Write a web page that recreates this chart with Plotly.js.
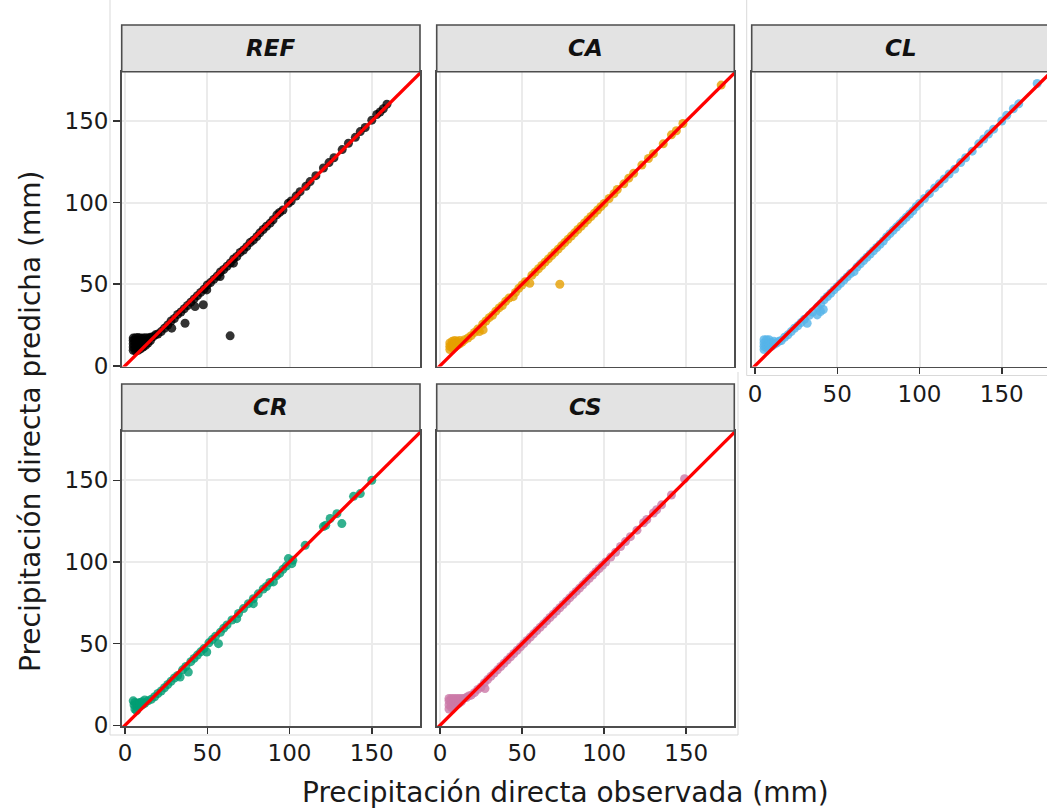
<!DOCTYPE html>
<html>
<head>
<meta charset="utf-8">
<script src="https://cdn.plot.ly/plotly-3.0.1.min.js"></script>
<style>
html,body{margin:0;padding:0;overflow:hidden;background:#ffffff;}
#chart{width:1052px;height:808px;}
</style>
</head>
<body>
<div id="chart"></div>
<script>
// ---------------- DATA ----------------
const panelNames = ["REF", "CA", "CL", "CR", "CS"];
const panelColors = ["#000000", "#E69F00", "#56B4E9", "#009E73", "#CC79A7"];
const tickValues = [0, 50, 100, 150];
const tickLabels = ["0", "50", "100", "150"];
const identityLine = [-5, 185];

const refObs = [5,5,5,5,5,6.5,6.5,6.5,6.5,6.5,8,8,8,8,8,9.5,9.5,9.5,9.5,11,11,11,12.5,12.5,12.5,14,14,15.5,15.5,17,18.5,
  20,22,24,26,28,28.4,30,32,34,36.5,36,38,40,42.6,42,44,46,47.6,48,49.7,50,52,54,56,57.8,58,60,62,63.9,64,65.9,66,68,70,72,74,76,78,80.1,82,84,86,88.2,90,92.3,94,96,99.3,101,104,106.4,110,112.5,116,120.6,124,127,132,135.8,140,143,146,150,153,155,157,159.2];
const refPred = [9.5,11.5,13.5,15.5,17,9,11,13,15,17.2,9.5,11.5,13.5,15.5,17.3,10.5,12.5,14.5,17,11.5,14,17,12.5,15,17.2,14,17,15.5,17.5,17.8,19,
  19.5,21,23,25,27.5,23.1,29,31.5,33,26.1,35,37,39,36.3,41,43,45,37.4,47,46.5,49.5,51,53,55,54.7,57.5,59,61,18.4,63,62.9,65.5,67,69.5,71,73,75.5,77,79.2,81.5,83.5,85.5,87.4,89.5,92.5,94,95.5,99.6,101,104,106.7,110,112.9,116.5,121.2,124.5,127.5,132.5,136.4,140,143.5,146,150.5,154,155.5,157.5,160.3];

const caObs = [6,6,6,7.5,7.5,7.5,9,9,9,10.5,10.5,12,12,13.5,15,
  17,19,21,23,24,26.3,26,28,30,32,34,36,38,40,42,44.6,46,48,50,52,54.7,56,58,60,62,64,66,68,70,72,73,74,76,78,80,82,84,86,88,90,92,94,96,98,100,103,106,108,112,115,118,123,127,130,136,141,144,148,171.3];
const caPred = [10,12,14,11,13,15,11.5,13.5,15.5,12.5,15,13.5,15.5,14.5,16,
  17,18.5,20.5,22.5,21,22,25.5,27.5,29.5,31,33.5,35.5,37,39.5,41.5,42.4,45,47.5,49.5,51.5,50.6,55.5,57.5,59.5,61.5,63.5,65.5,67.5,69.5,71.5,50,73.5,75.5,77.5,79.5,81.5,83.5,85.5,87.5,89.5,91.5,93.5,95.5,97.5,99.5,102.5,105.5,108,111.5,115,118,123,127,130,136,141.5,144,148.5,172];

const clObs = [5.5,5.5,5.5,5.5,7,7,7,8.5,8.5,8.5,10,10,11.5,11.5,13,14.5,
  16,18,20,22,24,26,28,30,31.7,33,35,37.8,39.8,41.5,38,40,42,44,46,48,50,52,54,56,58,60.2,62,64,66,68,70,72,74,76,78,80,82,84,86,88,90,92,94,96,98,100,103,106,109.2,112,115,118,121.4,125,128,132,136,139,141.9,145,150,153,157,160.3,171.5];
const clPred = [10,12,14,16,11,13,16,11.5,13.5,16,12,14.5,13,15,14,15,
  15.5,17.5,19,21,23,24.5,26.5,28.5,26.1,31,33,31.2,33.3,34.5,36,38,40.5,42.5,44.5,46.5,48.5,50.5,52.5,54.5,56.5,57.7,60.5,62.5,64.5,66.5,68.5,70.5,72.5,74.5,76.5,79,81,83,85,87,89,91,93,95,97.5,99.5,102.5,105.5,109,111.5,114.5,117.5,120.5,124.5,127.5,131.5,136,139,142,145,150,153.5,157.5,160.5,173];

const crObs = [5,5.5,6,6,7,7.5,7.5,9,9,10.5,10.5,12,12,14,
  16,18,20,22,24,26,28,30,32,33.5,35,37,38.5,40,42,44,46,48,49.7,51,53,55,56.8,58,60,62,65,67.9,69,72,75,78,78,81,84,86,88,90.2,92,94,96,98,99.3,101.4,102,109.5,120.6,122,124.7,128.8,131.8,138.9,143,150];
const crPred = [15,12.5,10,14,9,11,13.5,12,14,12.5,14.5,13.5,15.5,15,
  16,17.5,19.5,21,23,25,27,29,30.5,29.6,34,36,32.6,39,41,43,45,47,44.9,50.5,52.5,54.5,50,57,59.5,61.5,64.5,65.3,68.5,71.5,74.5,74.5,77.5,80.5,83.5,85,87.5,87.8,91.5,93,95.5,97.5,102.1,99,101,110.2,121.7,122.5,126.6,129.6,123.5,140.2,141.9,150];

const csObs = [5.5,5.5,5.5,5.5,7,7,7,8.5,8.5,8.5,10,10,10,11.5,11.5,13,13,14.5,16,17.5,
  19,21,23,25,27,27.4,29,31,33,35,37,39,41,43,45,47,49,51,53,55,57,59,61,63,65,67,69,71,73,75,77,79,81,83,85,87,89,91,93,95,97,99,101,104,107,110,113,116,120,124,126,130,132,135,141,149];
const csPred = [10,12.5,15,16.5,11,13.5,16.5,12,14.5,16.5,12.5,15,16.5,13.5,16.5,14.5,16.5,16.5,17,18,
  18.5,20,22,23.5,26,22.5,28,30,32,34,36,38,40,42,44,46,48,50,52,54,56,58,60,62,64,66,68,70,72,74,76,78,80,82,84,86,88,90,92,94,96,98,100,103,106,109.5,112.5,115.5,119.5,124,126,130,132,135,141,151];

const observed = [refObs, caObs, clObs, crObs, csObs];
const predicted = [refPred, caPred, clPred, crPred, csPred];

// ---------------- LAYOUT GEOMETRY (pixels) ----------------
const W = 1052, H = 808;
const colPx = [[121.7, 420], [436.7, 734.3], [751.7, 1050]];
const rowPx = [[71.7, 366.5], [431, 726]];
const stripPx = [[25, 71.7], [384, 431]];
const cellOf = [[0,0],[1,0],[2,0],[0,1],[1,1]]; // [col,row]
const showX = [false, false, true, true, true];
const showY = [true, false, false, true, false];

const fx = v => v / W;
const fy = v => 1 - v / H;

const traces = [];
const layout = {
  width: W, height: H,
  margin: {l: 0, r: 0, t: 0, b: 0},
  paper_bgcolor: "#ffffff",
  plot_bgcolor: "#ffffff",
  showlegend: false,
  font: {family: "DejaVu Sans", color: "#1a1a1a"},
  shapes: [],
  annotations: []
};

panelNames.forEach((name, i) => {
  const [c, r] = cellOf[i];
  const sfx = i === 0 ? "" : String(i + 1);
  const xa = "x" + sfx, ya = "y" + sfx;
  traces.push({
    type: "scatter", mode: "markers", xaxis: xa, yaxis: ya,
    x: observed[i], y: predicted[i],
    marker: {color: panelColors[i], size: 9, opacity: 0.8, line: {width: 0}},
    hoverinfo: "x+y"
  });
  traces.push({
    type: "scatter", mode: "lines", xaxis: xa, yaxis: ya,
    x: identityLine, y: identityLine,
    line: {color: "#ff0000", width: 3.3},
    hoverinfo: "skip"
  });
  const common = {
    showgrid: true, gridcolor: "#ebebeb", gridwidth: 2,
    zeroline: false, showline: true, mirror: true,
    linecolor: "#4d4d4d", linewidth: 1.6,
    tickmode: "array", tickvals: tickValues, ticktext: tickLabels,
    tickfont: {family: "DejaVu Sans", size: 23, color: "#1a1a1a"},
    tickcolor: "#333333", tickwidth: 1.5,
    fixedrange: true
  };
  layout["xaxis" + sfx] = Object.assign({}, common, {
    domain: [fx(colPx[c][0]), fx(colPx[c][1])],
    anchor: ya, range: [-2, 179.3],
    ticks: showX[i] ? "outside" : "", ticklen: 6,
    showticklabels: showX[i]
  });
  layout["yaxis" + sfx] = Object.assign({}, common, {
    domain: [fy(rowPx[r][1]), fy(rowPx[r][0])],
    anchor: xa, range: [-0.4, 180.2],
    ticks: showY[i] ? "outside" : "", ticklen: 7,
    showticklabels: showY[i]
  });
  // strip
  layout.shapes.push({
    type: "rect", xref: "paper", yref: "paper",
    x0: fx(colPx[c][0]), x1: fx(colPx[c][1]),
    y0: fy(stripPx[r][1]), y1: fy(stripPx[r][0]),
    fillcolor: "#e3e3e3", line: {color: "#4d4d4d", width: 1.6}, layer: "above"
  });
  layout.annotations.push({
    xref: "paper", yref: "paper",
    x: fx((colPx[c][0] + colPx[c][1]) / 2), y: fy((stripPx[r][0] + stripPx[r][1]) / 2),
    xanchor: "center", yanchor: "middle", showarrow: false,
    text: name,
    font: {family: "DejaVu Sans", size: 23, color: "#111111", weight: "bold", style: "italic"}
  });
});

// light outer guide lines
const guide = {color: "#d9d9d9", width: 1};
[
  [110, 0, 110, 735],
  [110, 735, 738, 735],
  [738, 372, 738, 735],
  [746.7, 0, 746.7, 375.5],
  [746.7, 375.5, 1052, 375.5]
].forEach(s => layout.shapes.push({
  type: "line", xref: "paper", yref: "paper",
  x0: fx(s[0]), y0: fy(s[1]), x1: fx(s[2]), y1: fy(s[3]),
  line: guide, layer: "below"
}));

// axis titles
layout.annotations.push({
  xref: "paper", yref: "paper", x: fx(565), y: fy(792),
  xanchor: "center", yanchor: "middle", showarrow: false,
  text: "Precipitación directa observada (mm)",
  font: {family: "DejaVu Sans", size: 28, color: "#1a1a1a"}
});
layout.annotations.push({
  xref: "paper", yref: "paper", x: fx(30), y: fy(422),
  xanchor: "center", yanchor: "middle", showarrow: false, textangle: -90,
  text: "Precipitación directa predicha (mm)",
  font: {family: "DejaVu Sans", size: 28, color: "#1a1a1a"}
});

Plotly.newPlot("chart", traces, layout, {displayModeBar: false, staticPlot: true});
</script>
</body>
</html>
